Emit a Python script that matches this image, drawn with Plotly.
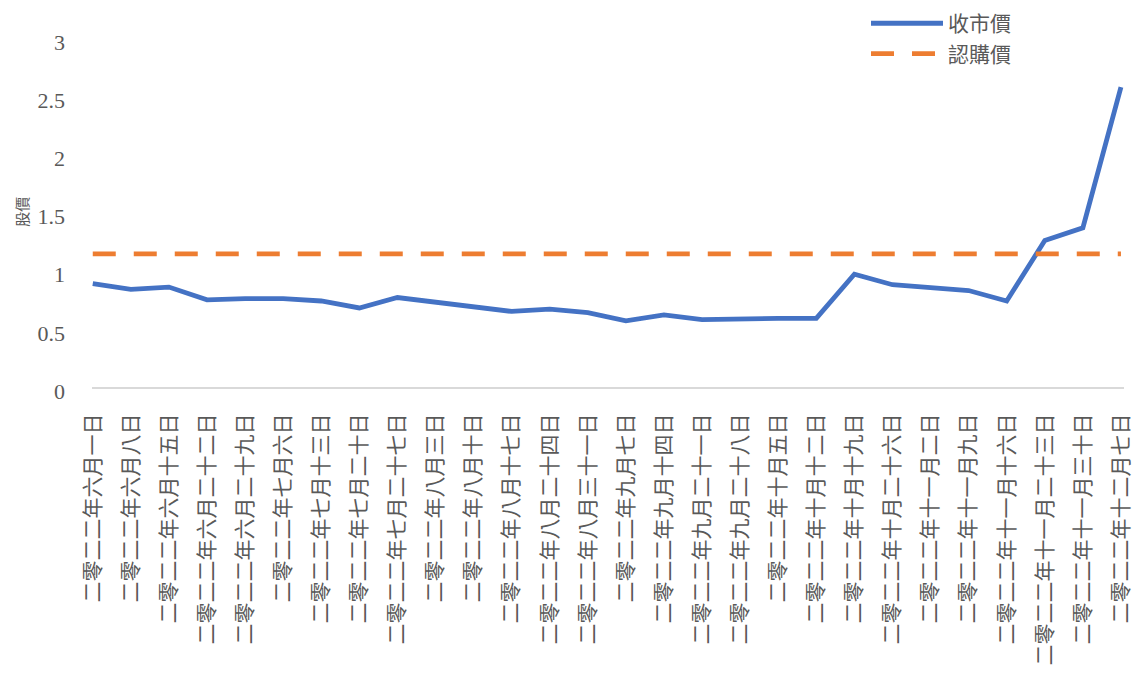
import plotly.graph_objects as go

dates = [
    "二零二二年六月一日", "二零二二年六月八日", "二零二二年六月十五日", "二零二二年六月二十二日",
    "二零二二年六月二十九日", "二零二二年七月六日", "二零二二年七月十三日", "二零二二年七月二十日",
    "二零二二年七月二十七日", "二零二二年八月三日", "二零二二年八月十日", "二零二二年八月十七日",
    "二零二二年八月二十四日", "二零二二年八月三十一日", "二零二二年九月七日", "二零二二年九月十四日",
    "二零二二年九月二十一日", "二零二二年九月二十八日", "二零二二年十月五日", "二零二二年十月十二日",
    "二零二二年十月十九日", "二零二二年十月二十六日", "二零二二年十一月二日", "二零二二年十一月九日",
    "二零二二年十一月十六日", "二零二二年十一月二十三日", "二零二二年十一月三十日", "二零二二年十二月七日",
]
close_price = [0.89, 0.84, 0.86, 0.75, 0.76, 0.76, 0.74, 0.68, 0.77, 0.73, 0.70, 0.65, 0.67, 0.64,
               0.57, 0.62, 0.58, 0.59, 0.59, 0.59, 0.97, 0.88, 0.85, 0.83, 0.74, 1.26, 1.37, 2.58]
subscription_price = [1.145] * len(dates)

y_ticks = [0, 0.5, 1, 1.5, 2, 2.5, 3]
y_tick_text = ["0", "0.5", "1", "1.5", "2", "2.5", "3"]
y_title = "股價"

x_idx = list(range(len(dates)))

GRAY = "#595959"
FONT = "Liberation Serif, Noto Sans CJK TC, serif"

fig = go.Figure()
fig.add_trace(go.Scatter(
    x=x_idx, y=close_price, mode="lines", name="收市價",
    line=dict(color="#4472C4", width=4.8),
))
fig.add_trace(go.Scatter(
    x=x_idx, y=subscription_price, mode="lines", name="認購價",
    line=dict(color="#ED7D31", width=4.8, dash="23px,18px"),
))

fig.add_annotation(
    text=y_title, xref="paper", yref="paper", x=-0.069, y=0.452,
    xanchor="center", yanchor="middle", textangle=-90, showarrow=False,
    font=dict(size=15, family="Noto Sans CJK TC", color=GRAY),
)

fig.update_layout(
    width=1132, height=673,
    margin=dict(l=92, r=8, t=0, b=286),
    paper_bgcolor="white", plot_bgcolor="white",
    font=dict(family=FONT, color=GRAY),
    showlegend=True,
    legend=dict(
        x=0.75, y=0.992, xanchor="left", yanchor="top",
        font=dict(size=21, family="Noto Sans CJK TC", color=GRAY),
        bgcolor="rgba(0,0,0,0)", itemwidth=72, tracegroupgap=0,
    ),
    xaxis=dict(
        range=[-0.02, 27.08], automargin=False,
        tickmode="array", tickvals=x_idx, ticktext=dates,
        tickangle=-90, tickfont=dict(size=21, family=FONT, color=GRAY),
        showgrid=False, zeroline=False, showline=True, linecolor="#D9D9D9", linewidth=2,
        ticks="", ticklabelstandoff=16, ticklabeloverflow="allow",
    ),
    yaxis=dict(
        range=[0, 3.33], automargin=False,
        tickmode="array", tickvals=y_ticks, ticktext=y_tick_text,
        tickfont=dict(size=22, family=FONT, color=GRAY),
        showgrid=False, zeroline=False, showline=False, ticks="",
        ticklabelstandoff=26, ticklabelshift=4,
    ),
)

fig.write_html("out.html")
